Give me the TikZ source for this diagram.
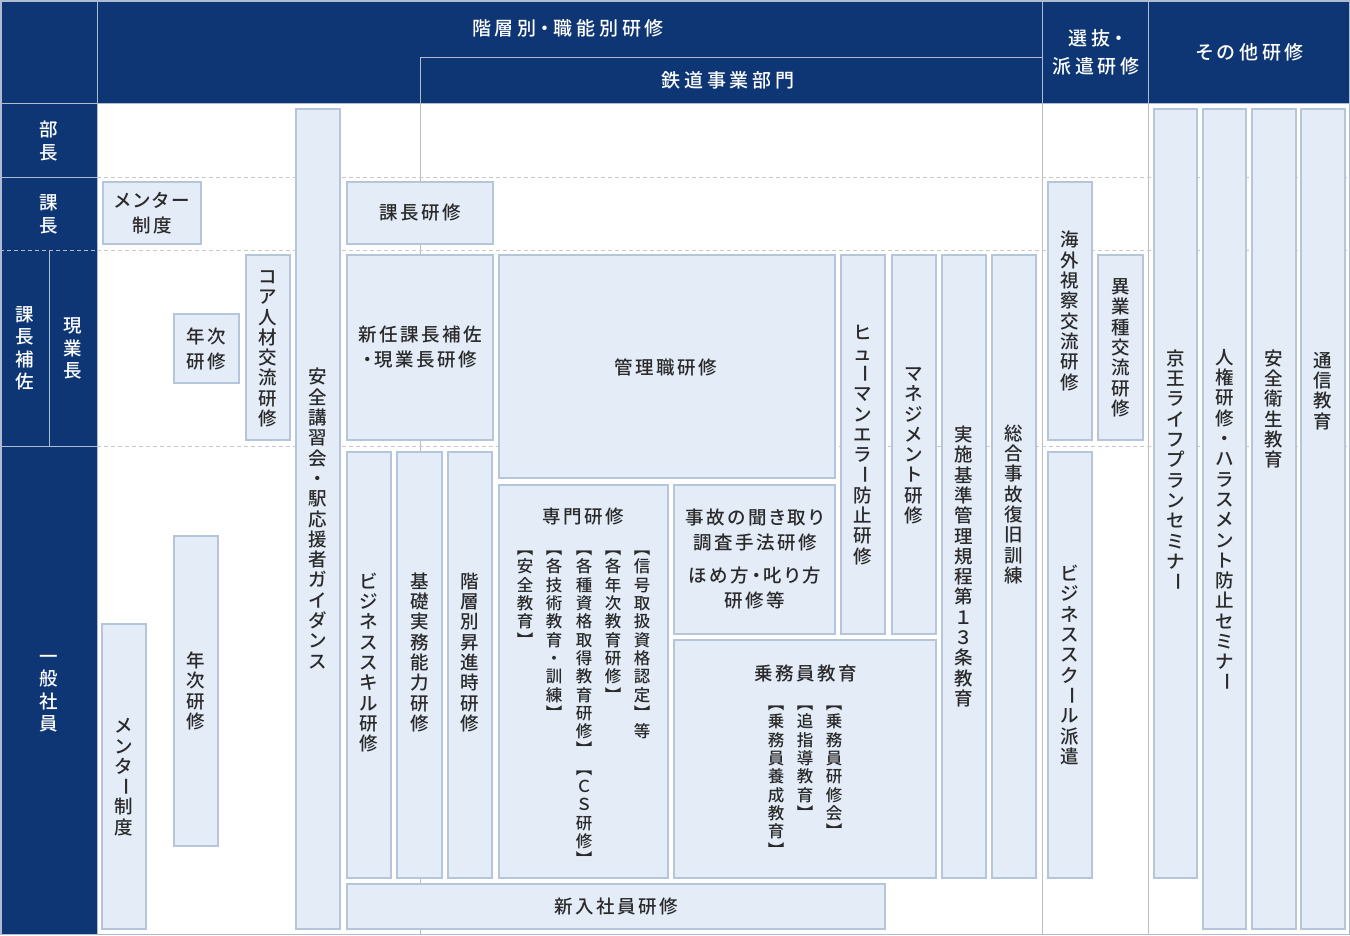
\documentclass[tikz,border=0pt]{standalone}
\usepackage{fontspec}
\usepackage{graphicx}
\setmainfont{Noto Sans CJK JP}[UprightFont={* Medium}]
\newfontfamily\hfont{Noto Sans CJK JP}[UprightFont={* Medium},RawFeature=+palt]
\definecolor{navy}{RGB}{15,54,116}
\definecolor{boxfill}{HTML}{E4ECF8}
\definecolor{boxline}{HTML}{B5C5DA}
\definecolor{hline}{HTML}{AEBBD0}
\definecolor{gline}{HTML}{BEBEBE}
\definecolor{dline}{HTML}{C8C8C8}
\definecolor{txt}{HTML}{2A2A2A}
\makeatletter
\newcommand\vcolA[3]{\vtop{\offinterlineskip\@tfor\vt@c:=#3\do{\hbox to 1em{\hss\vrule width0pt height #1 depth #2\relax\vt@c\hss}}}}
\newcommand\hsx[2]{{\hfont\@tfor\hs@c:=#2\do{\hs@c\kern#1}\kern-#1}}
\makeatother
\newcommand\hs[1]{\hsx{2.6pt}{#1}}
\newcommand\hh[1]{\hsx{3.8pt}{#1}}
\newcommand\vt[1]{{\fontsize{18.5}{20}\selectfont\vcolA{17.18pt}{3.12pt}{#1}}}
\newcommand\vs[1]{{\fontsize{16.5}{18}\selectfont\vcolA{15.42pt}{2.88pt}{#1}}}
\newcommand\vh[1]{{\fontsize{18.5}{20}\selectfont\vcolA{18.28pt}{4.22pt}{#1}}}
\newcommand\VL{\raisebox{0.165em}{\rotatebox[origin=c]{-90}{ー}}}
\newcommand\bx[5]{%
  \pgfmathsetmacro\bw{#4-#2}\pgfmathsetmacro\bh{#5-#3}%
  \node[bx, minimum width=\bw pt, minimum height=\bh pt] (#1) at ({(#2+#4)/2},{(#3+#5)/2}) {};}
\tikzset{
  bx/.style={draw=boxline, fill=boxfill, line width=2pt, inner sep=0pt},
  lbl/.style={text=txt, font=\fontsize{18.5}{25}\selectfont, align=center, inner sep=0pt},
  hdr/.style={text=white, font=\fontsize{19}{28}\selectfont, align=center, inner sep=0pt},
  hl/.style={draw=hline, line width=1pt},
  gl/.style={draw=gline, line width=1pt},
  dl/.style={draw=dline, line width=1pt, dash pattern=on 4pt off 3pt},
}
\begin{document}
\begin{tikzpicture}[x=1pt,y=-1pt]
\useasboundingbox (0,0) rectangle (1350,935);
\fill[white] (0,0) rectangle (1350,935);
% header and left column
\fill[navy] (0,0) rectangle (1350,103);
\fill[navy] (0,103) rectangle (97,935);
% coordinates for rules
\coordinate (a1) at (420,57); \coordinate (a2) at (1042,57);
\coordinate (v1t) at (420,57); \coordinate (v1b) at (420,935);
\coordinate (v2t) at (1042,0); \coordinate (v2b) at (1042,935);
\coordinate (v3t) at (1148,0); \coordinate (v3b) at (1148,935);
% body vertical rules
\draw[gl] (420,103) -- (v1b);
\draw[gl] (1042,103) -- (v2b);
\draw[gl] (1148,103) -- (v3b);
% header rules
\draw[hl] (a1) -- (a2);
\draw[hl] (v1t) -- (420,103);
\draw[hl] (v2t) -- (1042,103);
\draw[hl] (v3t) -- (1148,103);
\draw[hl] (0,103) -- (1350,103);
\draw[hl] (97,0) -- (97,935);
\draw[hl] (0,177) -- (97,177);
\draw[hl] (0,446) -- (97,446);
\draw[hl] (49,250) -- (49,446);
\draw[hl, dash pattern=on 4pt off 3pt] (0,250) -- (97,250);
% dashed row rules
\draw[dl] (97,177) -- (1350,177);
\draw[dl] (97,250) -- (1350,250);
\draw[dl] (97,446) -- (1350,446);
% outer frame
\draw[draw=hline, line width=1.5pt] (0.75,0.75) rectangle (1349.25,934.25);
% header texts
\node[hdr] (h1) at (568,28) {\hh{階層別・職能別研修}};
\node[hdr] (h2) at (728,80) {\hh{鉄道事業部門}};
\node[hdr] (h3) at (1096,52) {\hh{選抜・}\\\hh{派遣研修}};
\node[hdr] (h4) at (1250,52) {\hh{その他研修}};
\node[hdr] (r1) at (49,141) {\vh{部長}};
\node[hdr] (r2) at (49,214) {\vh{課長}};
\node[hdr] (r3) at (25,348) {\vh{課長補佐}};
\node[hdr] (r4) at (73,348) {\vh{現業長}};
\node[hdr] (r5) at (49,690) {\vh{一般社員}};
% boxes
\bx{mentorK}{103}{182}{201}{244}
\bx{nenjiS}{174}{314}{239}{383}
\bx{core}{246}{255}{290}{440}
\bx{anzen}{296}{109}{340}{929}
\bx{kacho}{347}{182}{493}{244}
\bx{shinnin}{347}{255}{493}{440}
\bx{kanri}{499}{255}{835}{478}
\bx{human}{841}{255}{885}{634}
\bx{manage}{892}{255}{936}{634}
\bx{jisshi}{942}{255}{986}{878}
\bx{sogo}{992}{255}{1036}{878}
\bx{senmon}{499}{485}{668}{878}
\bx{jiko}{674}{485}{835}{634}
\bx{jomu}{674}{640}{936}{878}
\bx{biz}{347}{452}{391}{878}
\bx{kiso}{397}{452}{442}{878}
\bx{kaiso}{448}{452}{492}{878}
\bx{shinnyu}{347}{884}{885}{929}
\bx{mentorV}{102}{624}{146}{929}
\bx{nenjiV}{174}{536}{218}{846}
\bx{kaigai}{1048}{182}{1092}{440}
\bx{igyo}{1098}{255}{1143}{440}
\bx{bschool}{1048}{452}{1092}{878}
\bx{keio}{1154}{109}{1197}{878}
\bx{jinken}{1203}{109}{1246}{929}
\bx{eisei}{1252}{109}{1296}{929}
\bx{tsushin}{1301}{109}{1345}{929}
% horizontal labels
\node[lbl] (t-mentorK) at (mentorK) {\hs{メンター}\\\hs{制度}};
\node[lbl] (t-nenjiS) at (nenjiS) {\hs{年次}\\\hs{研修}};
\node[lbl] (t-kacho) at (kacho) {\hs{課長研修}};
\node[lbl] (t-shinnin) at (shinnin) {\hs{新任課長補佐}\\\hs{・現業長研修}};
\node[lbl] (t-kanri) at (666,367) {\hs{管理職研修}};
\node[lbl] (t-jiko) at (755,559) {\hs{事故の聞き取り}\\\hs{調査手法研修}\\[8pt]\hs{ほめ方・叱り方}\\\hs{研修等}};
\node[lbl] (t-senmon) at (583,517) {\hs{専門研修}};
\node[lbl] (t-jomu) at (806,673) {\hs{乗務員教育}};
\node[lbl] (t-shinnyu) at (shinnyu) {\hs{新入社員研修}};
% vertical labels
\node[lbl] (t-core) at (core) {\vt{コア人材交流研修}};
\node[lbl] (t-anzen) at (anzen) {\vt{安全講習会・駅応援者ガイダンス}};
\node[lbl] (t-human) at (human) {\vt{ヒュ\VL マンエラ\VL 防止研修}};
\node[lbl] (t-manage) at (manage) {\vt{マネジメント研修}};
\node[lbl] (t-jisshi) at (jisshi) {\vt{実施基準管理規程第１３条教育}};
\node[lbl, anchor=north] (t-sogo) at (1014,423) {\vt{総合事故復旧訓練}};
\node[lbl, anchor=north] (t-biz) at (369,571) {\vt{ビジネススキル研修}};
\node[lbl, anchor=north] (t-kiso) at (419.5,571) {\vt{基礎実務能力研修}};
\node[lbl, anchor=north] (t-kaiso) at (470,571) {\vt{階層別昇進時研修}};
\node[lbl] (t-mentorV) at (mentorV) {\vt{メンタ\VL 制度}};
\node[lbl] (t-nenjiV) at (nenjiV) {\vt{年次研修}};
\node[lbl] (t-kaigai) at (kaigai) {\vt{海外視察交流研修}};
\node[lbl] (t-igyo) at (igyo) {\vt{異業種交流研修}};
\node[lbl] (t-bschool) at (bschool) {\vt{ビジネススク\VL ル派遣}};
\node[lbl, anchor=north] (t-keio) at (1175.5,348) {\vt{京王ライフプランセミナ\VL}};
\node[lbl, anchor=north] (t-jinken) at (1224.5,347) {\vt{人権研修・ハラスメント防止セミナ\VL}};
\node[lbl, anchor=north] (t-eisei) at (1274,348) {\vt{安全衛生教育}};
\node[lbl, anchor=north] (t-tsushin) at (1323,350) {\vt{通信教育}};
% senmon columns
\node[lbl, anchor=north] (s1) at (642,539) {\vs{︻信号取扱資格認定︼等}};
\node[lbl, anchor=north] (s2) at (613,539) {\vs{︻各年次教育研修︼}};
\node[lbl, anchor=north] (s3) at (584,539) {\vs{︻各種資格取得教育研修︼︻ＣＳ研修︼}};
\node[lbl, anchor=north] (s4) at (554,539) {\vs{︻各技術教育・訓練︼}};
\node[lbl, anchor=north] (s5) at (525,539) {\vs{︻安全教育︼}};
% jomu columns
\node[lbl, anchor=north] (j1) at (834,694) {\vs{︻乗務員研修会︼}};
\node[lbl, anchor=north] (j2) at (805,694) {\vs{︻追指導教育︼}};
\node[lbl, anchor=north] (j3) at (776,694) {\vs{︻乗務員養成教育︼}};
\end{tikzpicture}
\end{document}
